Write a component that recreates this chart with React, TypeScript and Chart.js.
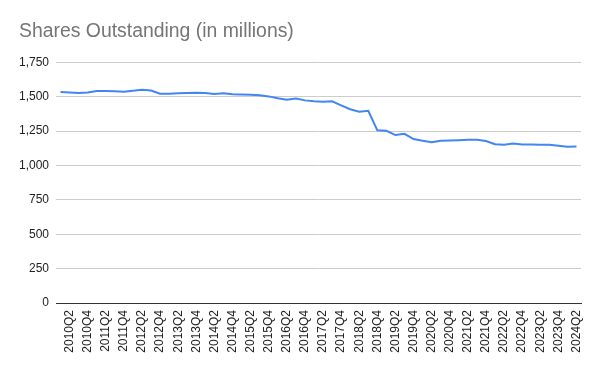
import React, { useEffect, useRef } from "react";
import { Chart, registerables } from "chart.js";

Chart.register(...registerables);

const quarters: string[] = [
  "2010Q1", "2010Q2", "2010Q3", "2010Q4",
  "2011Q1", "2011Q2", "2011Q3", "2011Q4",
  "2012Q1", "2012Q2", "2012Q3", "2012Q4",
  "2013Q1", "2013Q2", "2013Q3", "2013Q4",
  "2014Q1", "2014Q2", "2014Q3", "2014Q4",
  "2015Q1", "2015Q2", "2015Q3", "2015Q4",
  "2016Q1", "2016Q2", "2016Q3", "2016Q4",
  "2017Q1", "2017Q2", "2017Q3", "2017Q4",
  "2018Q1", "2018Q2", "2018Q3", "2018Q4",
  "2019Q1", "2019Q2", "2019Q3", "2019Q4",
  "2020Q1", "2020Q2", "2020Q3", "2020Q4",
  "2021Q1", "2021Q2", "2021Q3", "2021Q4",
  "2022Q1", "2022Q2", "2022Q3", "2022Q4",
  "2023Q1", "2023Q2", "2023Q3", "2023Q4",
  "2024Q1", "2024Q2",
];

const sharesOutstanding: number[] = [
  1534, 1531, 1527, 1531,
  1541, 1541, 1539, 1536,
  1543, 1551, 1545, 1522,
  1522, 1524, 1526, 1529,
  1526, 1519, 1524, 1517,
  1516, 1514, 1511, 1502,
  1488, 1477, 1487, 1473,
  1467, 1463, 1466, 1437,
  1409, 1391, 1397, 1255,
  1252, 1221, 1230, 1192,
  1180, 1168, 1180, 1182,
  1184, 1187, 1187, 1177,
  1154, 1150, 1160, 1153,
  1153, 1151, 1150, 1143,
  1136, 1137,
];

const titleText = "Shares Outstanding (in millions)";
const yMin = 0;
const yMax = 1750;
const yStep = 250;

const FONT = "'Liberation Sans', Arial, sans-serif";

export default function App() {
  const canvasRef = useRef<HTMLCanvasElement | null>(null);

  useEffect(() => {
    if (!canvasRef.current) return;
    const chart = new Chart(canvasRef.current, {
      type: "line",
      data: {
        labels: quarters,
        datasets: [
          {
            label: "Shares Outstanding",
            data: sharesOutstanding,
            borderColor: "#4285F4",
            backgroundColor: "#4285F4",
            borderWidth: 2,
            pointRadius: 0,
            pointHoverRadius: 0,
            tension: 0,
            fill: false,
          },
        ],
      },
      options: {
        animation: false,
        responsive: true,
        maintainAspectRatio: false,
        layout: { padding: { left: 19, right: 19, top: 0, bottom: 0 } },
        plugins: {
          legend: { display: false },
          tooltip: { enabled: false },
          title: {
            display: true,
            text: titleText,
            align: "start",
            color: "#757575",
            font: { family: FONT, size: 19.4, weight: "normal" },
            padding: { top: 20, bottom: 19 },
          },
        },
        scales: {
          x: {
            offset: true,
            grid: { display: false, drawTicks: false },
            border: { display: true, color: "#333333", width: 1 },
            ticks: {
              autoSkip: false,
              minRotation: 90,
              maxRotation: 90,
              padding: 7,
              color: "#222222",
              font: { family: FONT, size: 12 },
              callback: (_v: any, i: number) => (i % 2 === 1 ? quarters[i] : ""),
            },
            afterFit: (scale: any) => {
              scale.height = 68;
            },
          },
          y: {
            min: yMin,
            max: yMax,
            grid: {
              drawTicks: false,
              color: (ctx: any) => (ctx.tick && ctx.tick.value === 0 ? "#333333" : "#cccccc"),
            },
            border: { display: false },
            ticks: {
              stepSize: yStep,
              padding: 7,
              color: "#222222",
              font: { family: FONT, size: 12 },
            },
            afterFit: (scale: any) => {
              scale.width = 37;
            },
          },
        },
      },
    });
    return () => chart.destroy();
  }, []);

  return (
    <div style={{ position: "absolute", left: 0, top: 0, width: 600, height: 371, background: "#ffffff" }}>
      <canvas ref={canvasRef} />
    </div>
  );
}
